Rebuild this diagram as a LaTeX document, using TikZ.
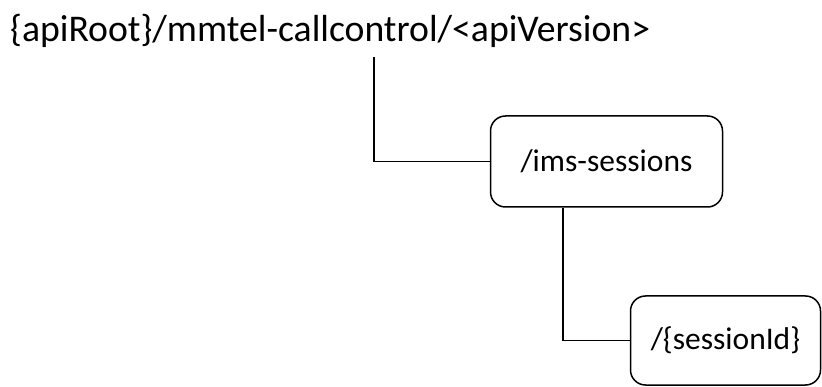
\documentclass[tikz,border=0pt]{standalone}
\usepackage{fontspec}
\setmainfont{Carlito}
\begin{document}
\begin{tikzpicture}[x=1pt,y=-1pt,
  res/.style={draw, line width=1.5pt, rounded corners=15pt, inner sep=0pt, font=\fontsize{31.5}{36}\selectfont},
  conn/.style={draw, line width=1.5pt}]
\useasboundingbox (0,0) rectangle (822,387);
\node[anchor=base west, inner sep=0pt, font=\fontsize{37.7}{44}\selectfont] (root) at (10,42) {\{apiRoot\}/mmtel-callcontrol/<apiVersion>};
\coordinate (c1) at (374,57);
\node[res, minimum width=232pt, minimum height=91pt] (b1) at (606.5,161.5) {/ims-sessions};
\node[res, minimum width=190pt, minimum height=89pt] (b2) at (725.5,340.5) {/\{sessionId\}};
\draw[conn] (c1) |- (b1.west);
\draw[conn] ([xshift=-43.5pt]b1.south) |- (b2.west);
\end{tikzpicture}
\end{document}
